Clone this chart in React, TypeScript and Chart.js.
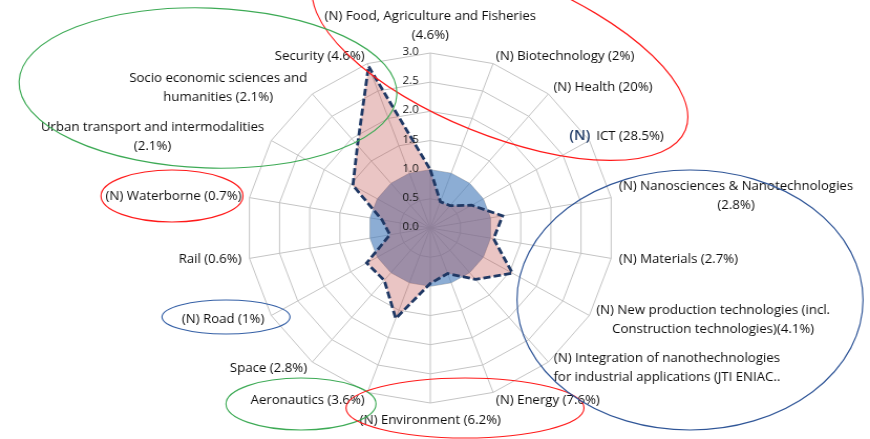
import React, { useEffect, useRef } from "react";
import { Chart, registerables } from "chart.js";

Chart.register(...registerables);

// ---------------- data ----------------
const categories: string[][] = [
  ["(N) Food, Agriculture and Fisheries", "(4.6%)"],
  ["(N) Biotechnology (2%)"],
  ["(N) Health (20%)"],
  ["(N) ICT (28.5%)"],
  ["(N) Nanosciences & Nanotechnologies", "(2.8%)"],
  ["(N) Materials (2.7%)"],
  ["(N) New production technologies (incl.", "Construction technologies)(4.1%)"],
  ["(N) Integration of nanothechnologies", "for industrial applications (JTI ENIAC.."],
  ["(N) Energy (7.6%)"],
  ["(N) Environment (6.2%)"],
  ["Aeronautics (3.6%)"],
  ["Space (2.8%)"],
  ["(N) Road (1%)"],
  ["Rail (0.6%)"],
  ["(N) Waterborne (0.7%)"],
  ["Urban transport and intermodalities", "(2.1%)"],
  ["Socio economic sciences and", "humanities (2.1%)"],
  ["Security (4.6%)"],
];

const specialisation: number[] = [
  1.0, 0.48, 0.5, 0.78, 1.2, 1.05, 1.55, 1.15, 0.83,
  0.95, 1.65, 1.17, 1.2, 0.67, 0.8, 1.46, 1.85, 2.95,
];

const baseline: number[] = [
  1, 1, 1, 1, 1, 1, 1, 1, 1,
  1, 1, 1, 1, 1, 1, 1, 1, 1,
];

const tickLabels: string[] = ["0.0", "0.5", "1.0", "1.5", "2.0", "2.5", "3.0"];
const scaleMin = 0;
const scaleMax = 3;
const scaleStep = 0.5;

// index of the label whose "(N)" prefix was pasted on separately
const HIGHLIGHT_INDEX = 3;

// hand-drawn annotation ellipses (page pixels): cx, cy, rx, ry, rotation deg, colour
const annotations: [number, number, number, number, number, string][] = [
  [500, 55, 200, 80, 22, "#FF1A1A"],
  [208, 88, 189, 80, 2, "#3DAA55"],
  [172, 196, 71, 26, 0, "#FF1A1A"],
  [226, 317, 64, 17, 0, "#3560A6"],
  [301, 404, 75, 26, 0, "#3DAA55"],
  [465, 408, 119, 30, 0, "#FF1A1A"],
  [690, 300, 173, 130, 0, "#2F5597"],
];

// ---------------- layout ----------------
const PAGE_W = 870;
const PAGE_H = 439;
const CANVAS_W = 829;
const SX = PAGE_W / CANVAS_W; // horizontal stretch of the original picture
const FONT = "'Open Sans', 'DejaVu Sans', sans-serif";
const LABEL_FONT_SIZE = 12.6;
const LINE_H = 19;
const LABEL_GAP = 8;
const TICK_GAP = 11;

const overlayPlugin = {
  id: "overlay",
  afterDatasetsDraw(chart: any) {
    const scale = chart.scales.r;
    const ctx: CanvasRenderingContext2D = chart.ctx;
    ctx.save();
    ctx.font = `11px ${FONT}`;
    ctx.fillStyle = "#111";
    ctx.textAlign = "right";
    ctx.textBaseline = "middle";
    scale.ticks.forEach((t: any) => {
      const d = scale.getDistanceFromCenterForValue(t.value);
      ctx.fillText(t.label, scale.xCenter - TICK_GAP, scale.yCenter - d - 1);
    });
    ctx.restore();
  },
  afterDraw(chart: any) {
    const scale = chart.scales.r;
    const ctx: CanvasRenderingContext2D = chart.ctx;
    const n = categories.length;
    const R = scale.drawingArea;
    ctx.save();
    ctx.font = `${LABEL_FONT_SIZE}px ${FONT}`;
    ctx.fillStyle = "#0d0d0d";
    ctx.textBaseline = "middle";
    categories.forEach((lines, i) => {
      const ang = (2 * Math.PI * i) / n;
      const s = Math.sin(ang);
      const c = Math.cos(ang);
      const tip = scale.getPointPosition(i, R);
      const ax = tip.x + (LABEL_GAP * s) / SX;
      const ay = tip.y - LABEL_GAP * c;
      const bw = Math.max(...lines.map((l) => ctx.measureText(l).width));
      const bh = lines.length * LINE_H;
      let cx: number;
      let top: number;
      if (Math.abs(s) < 1e-6) {
        cx = ax;
        top = c > 0 ? ay - bh : ay;
      } else {
        cx = s > 0 ? ax + bw / 2 : ax - bw / 2;
        top = ay - bh / 2;
      }
      lines.forEach((line, k) => {
        const y = top + k * LINE_H + LINE_H / 2;
        if (i === HIGHLIGHT_INDEX && k === 0 && line.startsWith("(N) ")) {
          const rest = line.slice(4);
          ctx.textAlign = "left";
          ctx.fillText(rest, ax, y);
          ctx.save();
          ctx.font = `600 14px ${FONT}`;
          ctx.fillStyle = "#1F3A66";
          ctx.textAlign = "right";
          ctx.fillText("(N)", ax - 6 / SX, y);
          ctx.restore();
        } else {
          ctx.textAlign = "center";
          ctx.fillText(line, cx, y);
        }
      });
    });
    ctx.restore();

    // annotation ellipses, given in page pixels
    ctx.save();
    ctx.scale(1 / SX, 1);
    annotations.forEach(([ex, ey, rx, ry, rot, col]) => {
      ctx.beginPath();
      ctx.ellipse(ex, ey, rx, ry, (rot * Math.PI) / 180, 0, Math.PI * 2);
      ctx.strokeStyle = col;
      ctx.lineWidth = 1.2;
      ctx.stroke();
    });
    ctx.restore();
  },
};

export default function App() {
  const ref = useRef<HTMLCanvasElement | null>(null);

  useEffect(() => {
    if (!ref.current) return;
    const chart = new Chart(ref.current, {
      type: "radar",
      data: {
        labels: categories.map((l) => l.join(" ")),
        datasets: [
          {
            label: "Specialisation",
            data: specialisation,
            backgroundColor: "rgba(192,80,77,0.33)",
            borderColor: "#1F3864",
            borderWidth: 2.8,
            borderDash: [7, 3],
            pointRadius: 0,
            fill: true,
          },
          {
            label: "Average",
            data: baseline,
            backgroundColor: "rgba(79,129,189,0.65)",
            borderColor: "transparent",
            borderWidth: 0,
            pointRadius: 0,
            fill: true,
          },
        ],
      },
      options: {
        responsive: false,
        animation: false,
        devicePixelRatio: 1,
        layout: { padding: { top: 53, bottom: 36, left: 235, right: 244 } },
        plugins: {
          legend: { display: false },
          tooltip: { enabled: false },
        },
        scales: {
          r: {
            min: scaleMin,
            max: scaleMax,
            ticks: {
              stepSize: scaleStep,
              display: false,
              callback: (_v: any, idx: number) => tickLabels[idx],
            },
            pointLabels: { display: false },
            grid: { color: "#C4C4C4", lineWidth: 1 },
            angleLines: { color: "#C4C4C4", lineWidth: 1 },
          },
        },
      },
      plugins: [overlayPlugin as any],
    } as any);
    return () => chart.destroy();
  }, []);

  return (
    <div
      style={{
        position: "absolute",
        left: 0,
        top: 0,
        width: PAGE_W,
        height: PAGE_H,
        overflow: "hidden",
        background: "#fff",
      }}
    >
      <canvas
        ref={ref}
        width={CANVAS_W}
        height={PAGE_H}
        style={{
          width: `${CANVAS_W}px`,
          height: `${PAGE_H}px`,
          display: "block",
          transform: `scaleX(${SX})`,
          transformOrigin: "0 0",
        }}
      />
    </div>
  );
}
